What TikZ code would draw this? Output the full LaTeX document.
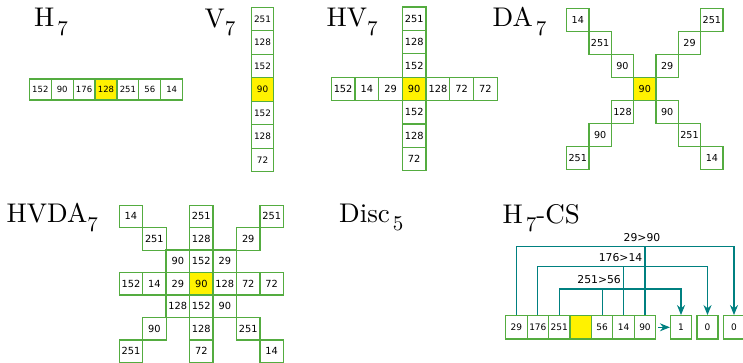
\documentclass[tikz,border=0pt]{standalone}
\usepackage{fontspec}
\usetikzlibrary{arrows.meta}
\newfontfamily\numfont{DejaVu Sans}
\newfontfamily\titlefont{lmroman10-regular.otf}
\definecolor{cellgreen}{RGB}{84,172,64}
\definecolor{linkteal}{RGB}{0,128,128}
\newcommand{\lowidx}[1]{\raisebox{-8.5pt}{\fontsize{21}{21}\selectfont #1}}
\tikzset{
  cell/.style={draw=cellgreen, very thick, inner sep=0pt, minimum width=22pt, minimum height=22pt, font=\numfont\fontsize{9}{9}\selectfont},
  mid/.style={cell, fill=yellow},
  link/.style={draw=linkteal, very thick},
  tip/.style={-{Stealth[length=10pt,width=8pt]}},
  title/.style={anchor=base west, inner sep=0pt, font=\titlefont\fontsize{27}{27}\selectfont},
  lab/.style={inner sep=0pt, font=\numfont\fontsize{10.8}{10.8}\selectfont},
}

\begin{document}
\begin{tikzpicture}[x=1pt,y=-1pt]
\useasboundingbox (0,0) rectangle (743,363);

% titles
\node[title] (tH) at (34,27) {H\kern3pt\lowidx{7}};
\node[title] (tV) at (204.5,27.3) {V\lowidx{7}};
\node[title] (tHV) at (326.5,26.7) {HV\lowidx{7}};
\node[title] (tDA) at (492.5,27) {DA\kern3pt\lowidx{7}};
\node[title] (tHVDA) at (6.5,222.7) {HVDA\lowidx{7}};
\node[title] (tDisc) at (339,222.3) {Disc\kern3pt\lowidx{5}};
\node[title] (tCS) at (502.5,223.3) {H\kern3pt\lowidx{7}-CS};

% H_7
\begin{scope}[shift={(106,89.5)}, x=21.9pt, cell/.append style={minimum width=21.9pt, minimum height=21pt, font=\numfont\fontsize{8.5}{8.5}\selectfont}]
\node[cell] (h1) at (-3,0) {152};
\node[cell] (h2) at (-2,0) {90};
\node[cell] (h3) at (-1,0) {176};
\node[mid] (h4) at (0,0) {128};
\node[cell] (h5) at (1,0) {251};
\node[cell] (h6) at (2,0) {56};
\node[cell] (h7) at (3,0) {14};
\end{scope}

% V_7
\begin{scope}[shift={(262.5,89.5)}, y=-23.5pt, cell/.append style={minimum width=21.7pt, minimum height=23.5pt, font=\numfont\fontsize{8.9}{8.9}\selectfont}]
\node[cell] (v1) at (0,-3) {251};
\node[cell] (v2) at (0,-2) {128};
\node[cell] (v3) at (0,-1) {152};
\node[mid] (v4) at (0,0) {90};
\node[cell] (v5) at (0,1) {152};
\node[cell] (v6) at (0,2) {128};
\node[cell] (v7) at (0,3) {72};
\end{scope}

% HV_7
\begin{scope}[shift={(414.2,89)}, x=23.7pt, y=-23.4pt, cell/.append style={minimum width=23.7pt, minimum height=23.4pt, font=\numfont\fontsize{9.8}{9.8}\selectfont}]
\node[cell] (hv14) at (0,-3) {251};
\node[cell] (hv24) at (0,-2) {128};
\node[cell] (hv34) at (0,-1) {152};
\node[cell] (hv41) at (-3,0) {152};
\node[cell] (hv42) at (-2,0) {14};
\node[cell] (hv43) at (-1,0) {29};
\node[cell] (hv45) at (1,0) {128};
\node[cell] (hv46) at (2,0) {72};
\node[cell] (hv47) at (3,0) {72};
\node[cell] (hv54) at (0,1) {152};
\node[cell] (hv64) at (0,2) {128};
\node[cell] (hv74) at (0,3) {72};
\node[mid] (hv44) at (0,0) {90};
\end{scope}

% DA_7
\begin{scope}[shift={(644.8,89.2)}, x=22.35pt, y=-23pt, cell/.append style={minimum width=22.4pt, minimum height=23pt, font=\numfont\fontsize{9.6}{9.6}\selectfont}]
\node[cell] (da11) at (-3,-3) {14};
\node[cell] (da17) at (3,-3) {251};
\node[cell] (da22) at (-2,-2) {251};
\node[cell] (da26) at (2,-2) {29};
\node[cell] (da33) at (-1,-1) {90};
\node[cell] (da35) at (1,-1) {29};
\node[cell] (da53) at (-1,1) {128};
\node[cell] (da55) at (1,1) {90};
\node[cell] (da62) at (-2,2) {90};
\node[cell] (da66) at (2,2) {251};
\node[cell] (da71) at (-3,3) {251};
\node[cell] (da77) at (3,3) {14};
\node[mid] (da44) at (0,0) {90};
\end{scope}

% HVDA_7
\begin{scope}[shift={(201.3,283.8)}, x=23.47pt, y=-22.47pt, cell/.append style={minimum width=23.5pt, minimum height=22.5pt, font=\numfont\fontsize{9.8}{9.8}\selectfont}]
\node[cell] (x11) at (-3,-3) {14};
\node[cell] (x14) at (0,-3) {251};
\node[cell] (x17) at (3,-3) {251};
\node[cell] (x22) at (-2,-2) {251};
\node[cell] (x24) at (0,-2) {128};
\node[cell] (x26) at (2,-2) {29};
\node[cell] (x33) at (-1,-1) {90};
\node[cell] (x34) at (0,-1) {152};
\node[cell] (x35) at (1,-1) {29};
\node[cell] (x41) at (-3,0) {152};
\node[cell] (x42) at (-2,0) {14};
\node[cell] (x43) at (-1,0) {29};
\node[cell] (x45) at (1,0) {128};
\node[cell] (x46) at (2,0) {72};
\node[cell] (x47) at (3,0) {72};
\node[cell] (x53) at (-1,1) {128};
\node[cell] (x54) at (0,1) {152};
\node[cell] (x55) at (1,1) {90};
\node[cell] (x62) at (-2,2) {90};
\node[cell] (x64) at (0,2) {128};
\node[cell] (x66) at (2,2) {251};
\node[cell] (x71) at (-3,3) {251};
\node[cell] (x74) at (0,3) {72};
\node[cell] (x77) at (3,3) {14};
\node[mid] (x44) at (0,0) {90};
\end{scope}

% H_7-CS
\begin{scope}[shift={(580.7,327.3)}, x=21.43pt, cell/.append style={minimum width=21.43pt, minimum height=23.3pt, font=\numfont\fontsize{9}{9}\selectfont}]
\node[cell] (cs1) at (-3,0) {29};
\node[cell] (cs2) at (-2,0) {176};
\node[cell] (cs3) at (-1,0) {251};
\node[mid] (cs4) at (0,0) {};
\node[cell] (cs5) at (1,0) {56};
\node[cell] (cs6) at (2,0) {14};
\node[cell] (cs7) at (3,0) {90};
\end{scope}
\begin{scope}[cell/.append style={minimum width=21pt, minimum height=23.3pt, font=\numfont\fontsize{9}{9}\selectfont}]
\node[cell] (o1) at (681,327.3) {1};
\node[cell] (o2) at (707.5,327.3) {0};
\node[cell] (o3) at (734,327.3) {0};
\end{scope}

\coordinate (lev1) at (0,246.7);
\coordinate (lev2) at (0,266.7);
\coordinate (lev3) at (0,289);

\draw[link,tip] (cs1.north) |- (o3.north |- lev1) -- (o3.north);
\draw[link] (cs7.north) -- (cs7.north |- lev1);
\draw[link,tip] (cs2.north) |- (o2.north |- lev2) -- (o2.north);
\draw[link] (cs6.north) -- (cs6.north |- lev2);
\draw[link,tip] (cs3.north) |- (o1.north |- lev3) -- (o1.north);
\draw[link] (cs5.north) -- (cs5.north |- lev3);
\draw[link,tip,shorten <=2pt] (cs7.east) -- (o1.west);

\node[lab,above=5pt] (c1) at ([xshift=-3pt]cs7.north |- lev1) {29>90};
\node[lab,above=5pt] (c2) at ([xshift=-3pt]cs6.north |- lev2) {176>14};
\node[lab,above=5pt] (c3) at ([xshift=-3pt]cs5.north |- lev3) {251>56};
\end{tikzpicture}
\end{document}
